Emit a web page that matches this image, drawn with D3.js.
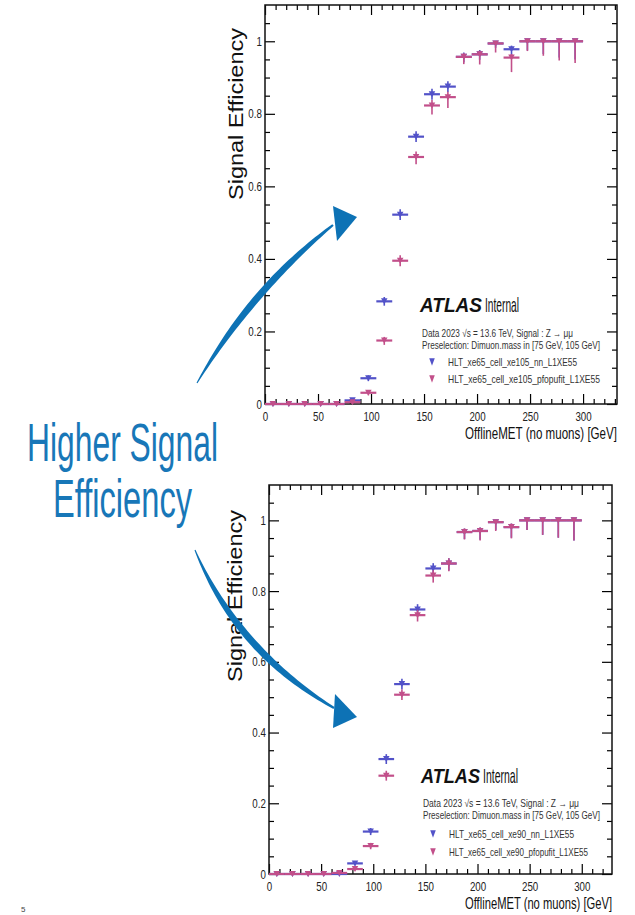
<!DOCTYPE html>
<html>
<head>
<meta charset="utf-8">
<script src="https://cdn.jsdelivr.net/npm/d3@7"></script>
<style>
  body { margin: 0; background: #fff; }
  svg { display: block; font-family: "Liberation Sans", Arial, sans-serif; }
</style>
</head>
<body>
<svg id="chart" width="635" height="915"></svg>
<script>
// bins of OfflineMET (15 GeV wide)
const binCenters = [7.5, 22.5, 37.5, 52.5, 67.5, 82.5, 97.5, 112.5, 127.5, 142.5,
                    157.5, 172.5, 187.5, 202.5, 217.5, 232.5, 247.5, 262.5, 277.5, 292.5];
const binHalfWidth = 7.5;
const xTicks = [0, 50, 100, 150, 200, 250, 300];
const yTicks = [0, 0.2, 0.4, 0.6, 0.8, 1];

// top panel: xe105
const xe105_nn      = [0, 0, 0, 0, 0, 0.010, 0.071, 0.283, 0.522, 0.737, 0.854, 0.875, 0.957, 0.964, 0.994, 0.978, 1, 1, 1, 1];
const xe105_nnLo    = [0, 0, 0, 0, 0, 0.004, 0.008, 0.012, 0.015, 0.015, 0.015, 0.015, 0.015, 0.015, 0.012, 0.020, 0.025, 0.035, 0.045, 0.050];
const xe105_nnHi    = [0, 0, 0, 0, 0, 0.004, 0.008, 0.012, 0.015, 0.015, 0.015, 0.015, 0.012, 0.012, 0.006, 0.010, 0, 0, 0, 0];
const xe105_pfo     = [0, 0, 0, 0, 0, 0.005, 0.031, 0.175, 0.395, 0.681, 0.823, 0.846, 0.957, 0.964, 0.994, 0.955, 1, 1, 1, 1];
const xe105_pfoLo   = [0, 0, 0, 0, 0, 0.003, 0.007, 0.012, 0.015, 0.020, 0.025, 0.030, 0.020, 0.028, 0.025, 0.040, 0.027, 0.040, 0.053, 0.060];
const xe105_pfoHi   = [0, 0, 0, 0, 0, 0.003, 0.007, 0.010, 0.015, 0.015, 0.015, 0.015, 0.010, 0.010, 0.006, 0.010, 0, 0, 0, 0];

// bottom panel: xe90
const xe90_nn       = [0, 0, 0, 0, 0, 0.030, 0.120, 0.325, 0.537, 0.748, 0.864, 0.878, 0.967, 0.970, 0.995, 0.981, 1, 1, 1, 1];
const xe90_nnLo     = [0, 0, 0, 0, 0, 0.006, 0.010, 0.014, 0.015, 0.015, 0.018, 0.020, 0.020, 0.025, 0.022, 0.030, 0.027, 0.041, 0.049, 0.057];
const xe90_nnHi     = [0, 0, 0, 0, 0, 0.006, 0.010, 0.014, 0.015, 0.015, 0.015, 0.015, 0.010, 0.010, 0.005, 0.010, 0, 0, 0, 0];
const xe90_pfo      = [0, 0, 0, 0, 0.003, 0.014, 0.079, 0.278, 0.507, 0.732, 0.844, 0.878, 0.967, 0.970, 0.995, 0.981, 1, 1, 1, 1];
const xe90_pfoLo    = [0, 0, 0, 0, 0.002, 0.004, 0.009, 0.014, 0.015, 0.018, 0.020, 0.022, 0.021, 0.027, 0.025, 0.032, 0.027, 0.041, 0.049, 0.057];
const xe90_pfoHi    = [0, 0, 0, 0, 0.002, 0.004, 0.009, 0.014, 0.015, 0.015, 0.015, 0.015, 0.010, 0.010, 0.005, 0.010, 0, 0, 0, 0];

const blue = '#5252c8';
const pink = '#c24f8a';
const arrowBlue = '#0d72b5';

const svg = d3.select('#chart');

function fitText(g, str, x, y, size, len, opts = {}) {
  const t = g.append('text')
    .attr('x', x).attr('y', y)
    .attr('font-size', size)
    .attr('textLength', len)
    .attr('lengthAdjust', 'spacingAndGlyphs')
    .attr('fill', opts.fill || '#111')
    .text(str);
  if (opts.weight) t.attr('font-weight', opts.weight);
  if (opts.italic) t.attr('font-style', 'italic');
  return t;
}

function tri(cx, cy, w, h) {
  return `M${cx - w / 2},${cy - h / 2}L${cx + w / 2},${cy - h / 2}L${cx},${cy + h / 2}Z`;
}

function drawPanel(p) {
  const x = d3.scaleLinear().domain([0, p.xMax]).range([p.left, p.right]);
  const y = d3.scaleLinear().domain([0, 1.1]).range([p.bottom, p.top]);
  const g = svg.append('g');

  const xMinor = d3.range(0, p.xMax, 10).filter(d => d % 50 !== 0);
  const yMinor = d3.range(0, 1.1, 0.05).filter(d => Math.abs(d * 5 - Math.round(d * 5)) > 1e-6);
  const clean = sel => { sel.select('.domain').remove(); sel.selectAll('line').attr('stroke-width', 1.2); };

  // major + minor ticks on all four sides, pointing inward
  g.append('g').attr('transform', `translate(0,${p.bottom})`)
    .call(d3.axisBottom(x).tickValues(xTicks).tickSize(-10).tickPadding(8).tickFormat(d3.format('d')))
    .call(clean)
    .call(a => a.selectAll('text').attr('font-size', 12.5).attr('fill', '#222')
      .attr('font-family', '"Liberation Sans", Arial, sans-serif').attr('transform', 'scale(0.78,1)'));
  g.append('g').attr('transform', `translate(0,${p.bottom})`)
    .call(d3.axisBottom(x).tickValues(xMinor).tickSize(-5).tickFormat(''))
    .call(clean);
  g.append('g').attr('transform', `translate(0,${p.top})`)
    .call(d3.axisTop(x).tickValues(xTicks).tickSize(-10).tickFormat(''))
    .call(clean);
  g.append('g').attr('transform', `translate(0,${p.top})`)
    .call(d3.axisTop(x).tickValues(xMinor).tickSize(-5).tickFormat(''))
    .call(clean);

  g.append('g').attr('transform', `translate(${p.left},0)`)
    .call(d3.axisLeft(y).tickValues(yTicks).tickSize(-10).tickPadding(4)
      .tickFormat(d => d === 0 ? '0' : d === 1 ? '1' : d.toFixed(1)))
    .call(clean)
    .call(a => a.selectAll('text').attr('font-size', 12.5).attr('fill', '#222')
      .attr('font-family', '"Liberation Sans", Arial, sans-serif').attr('transform', 'scale(0.78,1)'));
  g.append('g').attr('transform', `translate(${p.left},0)`)
    .call(d3.axisLeft(y).tickValues(yMinor).tickSize(-5).tickFormat(''))
    .call(clean);
  g.append('g').attr('transform', `translate(${p.right},0)`)
    .call(d3.axisRight(y).tickValues(yTicks).tickSize(-10).tickFormat(''))
    .call(clean);
  g.append('g').attr('transform', `translate(${p.right},0)`)
    .call(d3.axisRight(y).tickValues(yMinor).tickSize(-5).tickFormat(''))
    .call(clean);

  g.append('rect')
    .attr('x', p.left).attr('y', p.top)
    .attr('width', p.right - p.left).attr('height', p.bottom - p.top)
    .attr('fill', 'none').attr('stroke', '#111').attr('stroke-width', 1.5);

  // axis titles
  fitText(g, 'OfflineMET (no muons) [GeV]', p.right - p.xTitleLen, p.xTitleY, 16.5, p.xTitleLen);
  g.append('text')
    .attr('transform', `translate(${p.yTitleX},${p.yTitleY}) rotate(-90)`)
    .attr('x', -86).attr('font-size', 21)
    .attr('textLength', 172).attr('lengthAdjust', 'spacingAndGlyphs')
    .attr('fill', '#111')
    .text('Signal Efficiency');

  // data: blue first, pink on top
  p.series.forEach(s => {
    const pts = binCenters.map((c, i) => ({ c, v: s.values[i], lo: s.lo[i], hi: s.hi[i] }));
    const sg = g.append('g').attr('stroke', s.color).attr('fill', s.color);
    sg.selectAll('line.h').data(pts).join('line').attr('class', 'h')
      .attr('x1', d => x(d.c - binHalfWidth)).attr('x2', d => x(d.c + binHalfWidth))
      .attr('y1', d => y(d.v)).attr('y2', d => y(d.v))
      .attr('stroke-width', 2.2);
    sg.selectAll('line.v').data(pts).join('line').attr('class', 'v')
      .attr('x1', d => x(d.c)).attr('x2', d => x(d.c))
      .attr('y1', d => y(d.v - d.lo)).attr('y2', d => y(d.v + d.hi))
      .attr('stroke-width', 1.6);
    sg.selectAll('path').data(pts).join('path')
      .attr('d', d => tri(x(d.c), y(d.v), 6.5, 6))
      .attr('stroke', 'none');
  });

  // legend
  fitText(g, 'ATLAS', p.leg.x, p.leg.atlasY, 21, p.leg.atlasLen, { weight: 'bold', italic: true });
  fitText(g, 'Internal', p.leg.x + p.leg.atlasLen + 3, p.leg.atlasY, 21, p.leg.intLen);
  fitText(g, 'Data 2023 \u221As = 13.6 TeV, Signal : Z \u2192 \u03bc\u03bc', p.leg.x + 2, p.leg.dataY, 10.5, p.leg.dataLen, { fill: '#333' });
  fitText(g, 'Preselection: Dimuon.mass in [75 GeV, 105 GeV]', p.leg.x + 2, p.leg.preY, 10.5, p.leg.preLen, { fill: '#333' });
  p.series.forEach((s, i) => {
    const ey = p.leg.entryY[i];
    g.append('path').attr('d', tri(p.leg.x + 12, ey - 4, 5.5, 7.5)).attr('fill', s.color);
    fitText(g, s.name, p.leg.x + 28, ey, 10.5, s.nameLen, { fill: '#333' });
  });
}

drawPanel({
  left: 265, right: 617, top: 5, bottom: 404, xMax: 332,
  xTitleY: 439, xTitleLen: 152, yTitleX: 243, yTitleY: 114,
  leg: { x: 420, atlasY: 312, atlasLen: 62, intLen: 34, dataY: 337, dataLen: 151, preY: 349, preLen: 178, entryY: [366, 383] },
  series: [
    { name: 'HLT_xe65_cell_xe105_nn_L1XE55', nameLen: 129, color: blue, values: xe105_nn, lo: xe105_nnLo, hi: xe105_nnHi },
    { name: 'HLT_xe65_cell_xe105_pfopufit_L1XE55', nameLen: 152, color: pink, values: xe105_pfo, lo: xe105_pfoLo, hi: xe105_pfoHi }
  ]
});

drawPanel({
  left: 269, right: 612, top: 485, bottom: 874, xMax: 329,
  xTitleY: 909, xTitleLen: 147, yTitleX: 242, yTitleY: 596,
  leg: { x: 421, atlasY: 783, atlasLen: 59, intLen: 35, dataY: 807, dataLen: 156, preY: 819, preLen: 177, entryY: [838, 856] },
  series: [
    { name: 'HLT_xe65_cell_xe90_nn_L1XE55', nameLen: 125, color: blue, values: xe90_nn, lo: xe90_nnLo, hi: xe90_nnHi },
    { name: 'HLT_xe65_cell_xe90_pfopufit_L1XE55', nameLen: 139, color: pink, values: xe90_pfo, lo: xe90_pfoLo, hi: xe90_pfoHi }
  ]
});

// slide annotation
fitText(svg, 'Higher Signal', 27, 461, 54, 191, { fill: '#1877b8' });
fitText(svg, 'Efficiency', 53, 517, 54, 139, { fill: '#1877b8' });

function curvedArrow(p0, p1, p2, head, maxW) {
  const n = 48, left = [], right = [];
  for (let i = 0; i <= n; i++) {
    const t = i / n;
    const px = (1 - t) ** 2 * p0[0] + 2 * (1 - t) * t * p1[0] + t * t * p2[0];
    const py = (1 - t) ** 2 * p0[1] + 2 * (1 - t) * t * p1[1] + t * t * p2[1];
    const dx = 2 * (1 - t) * (p1[0] - p0[0]) + 2 * t * (p2[0] - p1[0]);
    const dy = 2 * (1 - t) * (p1[1] - p0[1]) + 2 * t * (p2[1] - p1[1]);
    const len = Math.hypot(dx, dy);
    const w = maxW * Math.sin(Math.PI * (0.05 + 0.85 * t)) / 2;
    left.push([px - dy / len * w, py + dx / len * w]);
    right.push([px + dy / len * w, py - dx / len * w]);
  }
  const body = left.concat(right.reverse());
  svg.append('path').attr('d', d3.line()(body) + 'Z').attr('fill', arrowBlue);
  svg.append('path').attr('d', d3.line()(head) + 'Z').attr('fill', arrowBlue);
}

curvedArrow([197, 383], [251, 290], [333, 225], [[333, 206], [357, 217], [337, 241]], 7);
curvedArrow([195, 550], [237, 651], [334, 708], [[335, 694], [357, 717], [333, 728]], 7);

// page number
svg.append('text').attr('x', 21).attr('y', 912).attr('font-size', 8).attr('fill', '#444').text('5');
</script>
</body>
</html>
